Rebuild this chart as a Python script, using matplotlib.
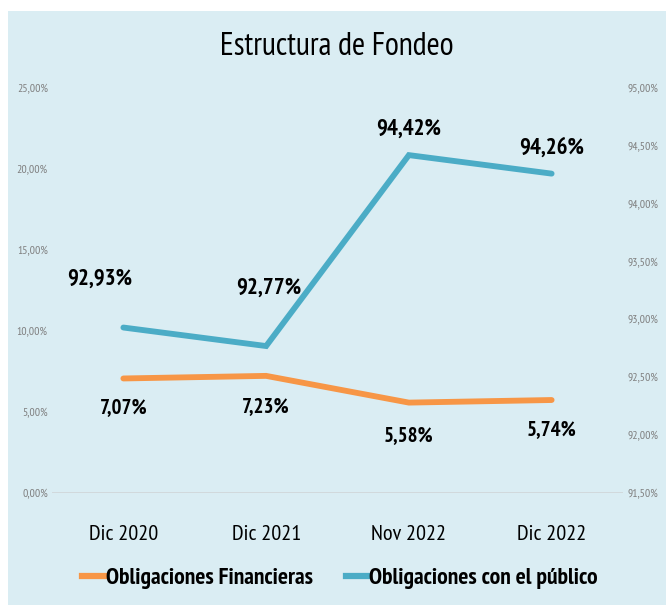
import matplotlib
matplotlib.use('Agg')
import matplotlib.pyplot as plt
from matplotlib.patches import Rectangle
from matplotlib.lines import Line2D

categories = ['Dic 2020', 'Dic 2021', 'Nov 2022', 'Dic 2022']
financieras = [7.07, 7.23, 5.58, 5.74]
publico = [92.93, 92.77, 94.42, 94.26]
left_ticks = [0, 5, 10, 15, 20, 25]
right_ticks = [91.5, 92.0, 92.5, 93.0, 93.5, 94.0, 94.5, 95.0]

# label offsets in pixels (as placed in the original chart)
pub_offsets = [(-24, 48), (3, 58), (0, 26), (0, 25)]
fin_offsets = [(0, -29), (0, -31), (0, -33), (0, -30)]

plt.rcParams['font.family'] = ['PT Sans Narrow', 'DejaVu Sans']

bg = '#DAEDF3'
orange = '#F79646'
blue = '#4BACC6'
grey = '#7F7F7F'

def fmt(v):
    return ('%.2f%%' % v).replace('.', ',')

fig = plt.figure(figsize=(6.66, 6.05), dpi=100)
fig.patch.set_facecolor('white')
fig.patches.append(Rectangle((8 / 666, 0), 1, 1 - 11 / 605, transform=fig.transFigure,
                             facecolor=bg, edgecolor='none', zorder=-10))

ax = fig.add_axes([52 / 666, 1 - 493 / 605, 571 / 666, 405 / 605])
ax.set_facecolor('none')
ax2 = ax.twinx()

x = list(range(len(categories)))
ax.plot(x, financieras, color=orange, lw=4.2, solid_capstyle='round', solid_joinstyle='miter')
ax2.plot(x, publico, color=blue, lw=4.2, solid_capstyle='round', solid_joinstyle='miter')

ax.set_xlim(-0.5, 3.5)
ax.set_ylim(0, 25)
ax2.set_ylim(91.5, 95)
ax.set_yticks(left_ticks)
ax.set_yticklabels([fmt(t) for t in left_ticks], fontsize=8.5, color=grey)
ax2.set_yticks(right_ticks)
ax2.set_yticklabels([fmt(t) for t in right_ticks], fontsize=8.5, color=grey)
ax.set_xticks(x)
ax.set_xticklabels(categories, fontsize=16)
ax.tick_params(axis='x', length=0, pad=23)
ax.tick_params(axis='y', length=0, pad=3)
ax2.tick_params(axis='y', length=0, pad=3)

for a in (ax, ax2):
    for s in a.spines.values():
        s.set_visible(False)
ax.axhline(0, color='#D0D5D8', lw=1.2, zorder=0)

for i, v in enumerate(publico):
    ax2.annotate(fmt(v), (i, v), xytext=pub_offsets[i], textcoords='offset pixels',
                 ha='center', va='center', fontsize=16.5, fontweight='bold')
for i, v in enumerate(financieras):
    ax.annotate(fmt(v), (i, v), xytext=fin_offsets[i], textcoords='offset pixels',
                ha='center', va='center', fontsize=15, fontweight='bold')

fig.text(337 / 666, 1 - 47 / 605, 'Estructura de Fondeo', ha='center', va='center', fontsize=23)

handles = [Line2D([0], [0], color=orange, lw=4.5, label='Obligaciones Financieras'),
           Line2D([0], [0], color=blue, lw=4.5, label='Obligaciones con el público')]
fig.legend(handles=handles, loc='center', bbox_to_anchor=(340 / 666, 1 - 578 / 605), ncol=2,
           frameon=False, prop={'size': 17, 'weight': 'bold'}, handlelength=1.0,
           handletextpad=0.0, columnspacing=1.4)

fig.savefig('out.png', dpi=100, facecolor=fig.get_facecolor())
